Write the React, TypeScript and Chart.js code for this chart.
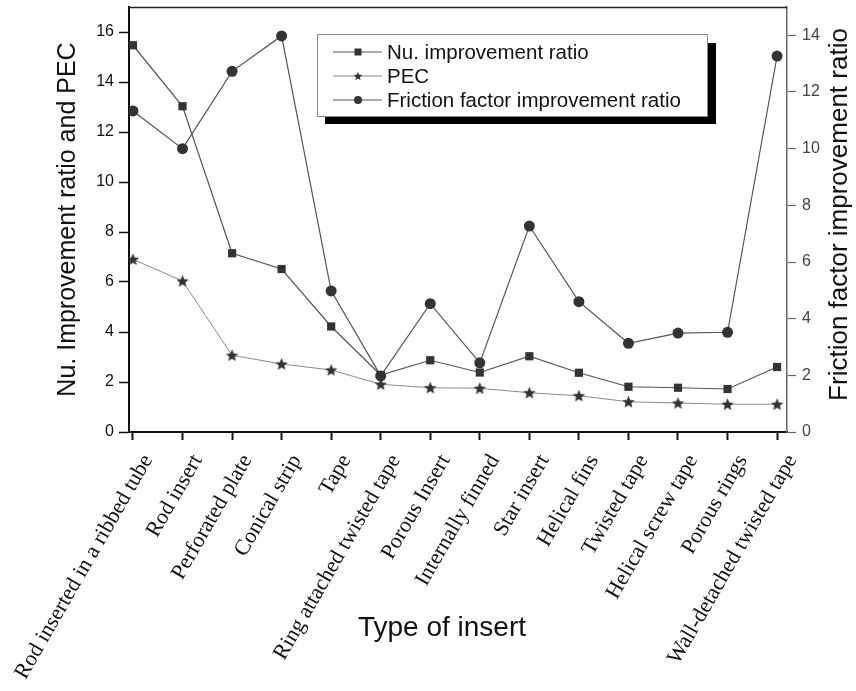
import React, { useEffect, useRef } from 'react';
import { Chart, registerables } from 'chart.js';

Chart.register(...registerables);

const categories = [
  'Rod inserted in a ribbed tube',
  'Rod insert',
  'Perforated plate',
  'Conical strip',
  'Tape',
  'Ring attached twisted tape',
  'Porous Insert',
  'Internally finned',
  'Star insert',
  'Helical fins',
  'Twisted tape',
  'Helical screw tape',
  'Porous rings',
  'Wall-detached twisted tape',
];

const nuRatio = [15.47, 13.03, 7.15, 6.52, 4.22, 2.28, 2.87, 2.38, 3.03, 2.37, 1.81, 1.77, 1.72, 2.6];
const pec = [6.91, 6.04, 3.07, 2.72, 2.48, 1.91, 1.77, 1.75, 1.57, 1.45, 1.21, 1.16, 1.11, 1.11];
const frictionRatio = [11.33, 10.0, 12.73, 13.98, 4.98, 1.98, 4.53, 2.44, 7.27, 4.6, 3.13, 3.49, 3.52, 13.27];

const seriesLabels = ['Nu. improvement ratio', 'PEC', 'Friction factor improvement ratio'];
const leftTitle = 'Nu. Improvement ratio and PEC';
const rightTitle = 'Friction factor improvement ratio';
const xTitle = 'Type of insert';

const SANS = '"Liberation Sans", Arial, Helvetica, sans-serif';
const SERIF = '"Liberation Serif", "Times New Roman", serif';

function makeStar(size: number, color: string) {
  const c = document.createElement('canvas');
  c.width = size;
  c.height = size;
  const g = c.getContext('2d')!;
  const cx = size / 2;
  const cy = size / 2 + size * 0.04;
  const R = size / 2;
  const r = R * 0.45;
  g.beginPath();
  for (let i = 0; i < 10; i++) {
    const a = -Math.PI / 2 + (i * Math.PI) / 5;
    const rad = i % 2 === 0 ? R : r;
    g.lineTo(cx + rad * Math.cos(a), cy + rad * Math.sin(a));
  }
  g.closePath();
  g.fillStyle = color;
  g.fill();
  return c;
}

function drawStar(ctx: CanvasRenderingContext2D, cx: number, cy: number, R: number) {
  const r = R * 0.45;
  ctx.beginPath();
  for (let i = 0; i < 10; i++) {
    const a = -Math.PI / 2 + (i * Math.PI) / 5;
    const rad = i % 2 === 0 ? R : r;
    ctx.lineTo(cx + rad * Math.cos(a), cy + rad * Math.sin(a));
  }
  ctx.closePath();
  ctx.fill();
}

const decorPlugin = {
  id: 'decor',
  afterDraw(chart: any) {
    const ctx: CanvasRenderingContext2D = chart.ctx;
    const ca = chart.chartArea;
    ctx.save();

    // top frame line
    ctx.strokeStyle = '#222';
    ctx.lineWidth = 1.5;
    ctx.beginPath();
    ctx.moveTo(ca.left, ca.top + 0.5);
    ctx.lineTo(ca.right, ca.top + 0.5);
    ctx.stroke();

    // legend box with shadow
    const bx = ca.left + 188;
    const by = ca.top + 27;
    const bw = 390;
    const bh = 82;
    ctx.fillStyle = '#000';
    ctx.fillRect(bx + 8, by + 9, bw + 1, bh - 1);
    ctx.fillStyle = '#fff';
    ctx.fillRect(bx, by, bw, bh);
    ctx.strokeStyle = '#888';
    ctx.lineWidth = 1;
    ctx.strokeRect(bx + 0.5, by + 0.5, bw, bh);

    const rowYs = [by + 18, by + 42, by + 66];
    chart.data.datasets.forEach((ds: any, i: number) => {
      const y = rowYs[i];
      ctx.strokeStyle = ds.borderColor;
      ctx.lineWidth = 1.2;
      ctx.beginPath();
      ctx.moveTo(bx + 16, y);
      ctx.lineTo(bx + 65, y);
      ctx.stroke();
      ctx.fillStyle = '#333';
      const mx = bx + 41;
      if (i === 0) ctx.fillRect(mx - 3.5, y - 3.5, 7, 7);
      else if (i === 1) drawStar(ctx, mx, y + 0.5, 4.5);
      else {
        ctx.beginPath();
        ctx.arc(mx, y, 4, 0, Math.PI * 2);
        ctx.fill();
      }
      ctx.fillStyle = '#111';
      ctx.font = `20.5px ${SANS}`;
      ctx.textAlign = 'left';
      ctx.textBaseline = 'middle';
      ctx.fillText(ds.label, bx + 70, y + 1);
    });

    // right axis title (reads bottom to top)
    ctx.save();
    ctx.translate(840, (ca.top + ca.bottom) / 2 - 5);
    ctx.rotate(-Math.PI / 2);
    ctx.font = `26px ${SANS}`;
    ctx.fillStyle = '#111';
    ctx.textAlign = 'center';
    ctx.textBaseline = 'middle';
    ctx.fillText(rightTitle, 0, 0);
    ctx.restore();

    // x axis title
    ctx.font = `28px ${SANS}`;
    ctx.fillStyle = '#111';
    ctx.textAlign = 'center';
    ctx.textBaseline = 'middle';
    ctx.fillText(xTitle, 442, 628);

    ctx.restore();
  },
};

export default function App() {
  const canvasRef = useRef<HTMLCanvasElement | null>(null);

  useEffect(() => {
    const canvas = canvasRef.current;
    if (!canvas) return;
    const star = makeStar(13, '#333');

    const chart = new Chart(canvas, {
      type: 'line',
      data: {
        datasets: [
          {
            label: seriesLabels[0],
            data: nuRatio.map((y, i) => ({ x: i, y })),
            yAxisID: 'y',
            borderColor: '#555',
            borderWidth: 1.2,
            pointStyle: 'rect',
            pointRadius: 5.8,
            pointBackgroundColor: '#333',
            pointBorderColor: '#333',
            pointBorderWidth: 0,
            tension: 0,
          },
          {
            label: seriesLabels[1],
            data: pec.map((y, i) => ({ x: i, y })),
            yAxisID: 'y',
            borderColor: '#8a8a8a',
            borderWidth: 1,
            pointStyle: star as any,
            pointRadius: 6,
            pointBackgroundColor: '#333',
            pointBorderColor: '#333',
            tension: 0,
          },
          {
            label: seriesLabels[2],
            data: frictionRatio.map((y, i) => ({ x: i, y })),
            yAxisID: 'y1',
            borderColor: '#555',
            borderWidth: 1.2,
            pointStyle: 'circle',
            pointRadius: 5.5,
            pointBackgroundColor: '#333',
            pointBorderColor: '#333',
            pointBorderWidth: 0,
            tension: 0,
          },
        ],
      },
      options: {
        responsive: false,
        animation: false,
        layout: { padding: { top: 7, left: 0, right: 0, bottom: 0 } },
        plugins: {
          legend: { display: false },
          tooltip: { enabled: false },
        },
        scales: {
          x: {
            type: 'linear',
            min: -0.08,
            max: 13.2,
            afterBuildTicks: (s: any) => {
              s.ticks = categories.map((_, i) => ({ value: i }));
            },
            afterFit: (s: any) => {
              s.height = 259;
              s.paddingLeft = 0;
              s.paddingRight = 0;
            },
            ticks: {
              autoSkip: false,
              minRotation: 60,
              maxRotation: 60,
              labelOffset: 15,
              padding: 10,
              color: '#111',
              font: { family: SERIF, size: 22 },
              callback: (v: any) => categories[Math.round(Number(v))] ?? '',
            },
            grid: { drawOnChartArea: false, drawTicks: true, tickLength: 8, tickWidth: 2, tickColor: '#111' },
            border: { display: true, color: '#111', width: 2 },
          },
          y: {
            position: 'left',
            min: 0,
            max: 17,
            afterFit: (s: any) => {
              s.width = 129;
              s.paddingTop = 0;
              s.paddingBottom = 0;
            },
            ticks: { stepSize: 2, includeBounds: false, padding: 5, color: '#111', font: { family: SANS, size: 16 } },
            grid: { drawOnChartArea: false, drawTicks: true, tickLength: 10, tickWidth: 1.5, tickColor: '#111' },
            border: { display: true, color: '#111', width: 2 },
            title: {
              display: true,
              text: leftTitle,
              color: '#111',
              font: { family: SANS, size: 25 },
              padding: { top: 53, bottom: 0 },
            },
          },
          y1: {
            position: 'right',
            min: 0,
            max: 15,
            afterFit: (s: any) => {
              s.width = 69;
              s.paddingTop = 0;
              s.paddingBottom = 0;
            },
            ticks: { stepSize: 2, includeBounds: false, padding: 6, color: '#444', font: { family: SANS, size: 16 } },
            grid: { drawOnChartArea: false, drawTicks: true, tickLength: 9, tickWidth: 1.2, tickColor: '#666' },
            border: { display: true, color: '#666', width: 1.5 },
          },
        },
      } as any,
      plugins: [decorPlugin],
    });

    return () => chart.destroy();
  }, []);

  return (
    <div style={{ position: 'absolute', left: 0, top: 0, width: 856, height: 691, background: '#fff' }}>
      <canvas ref={canvasRef} width={856} height={691} style={{ display: 'block', width: 856, height: 691 }} />
    </div>
  );
}
